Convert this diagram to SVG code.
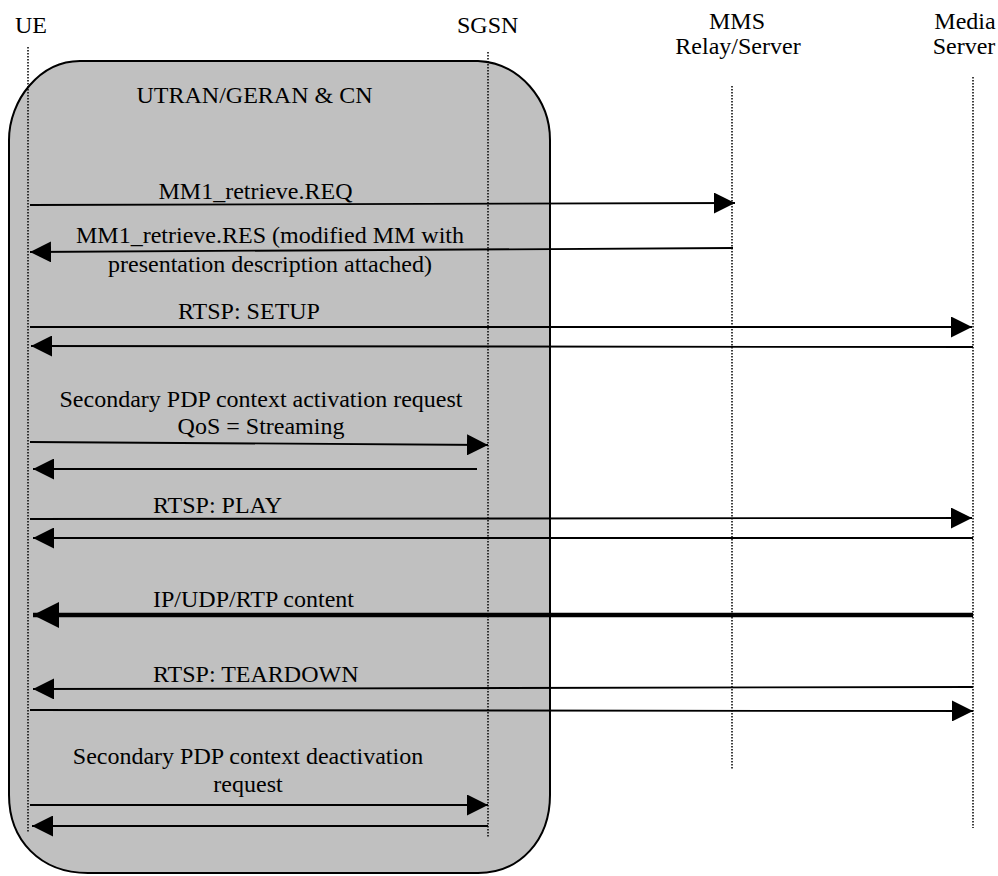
<svg xmlns="http://www.w3.org/2000/svg" width="998" height="876" viewBox="0 0 998 876">
<style>
text{font-family:Liberation Serif,Times New Roman,Times,serif;font-size:24px;fill:#000}
.c{text-anchor:middle}
.life{stroke:#000;stroke-width:1.5;stroke-dasharray:1.5 1.5;fill:none}
.msg{stroke:#000;stroke-width:1.8;fill:none;marker-end:url(#ah)}
.thick{stroke:#000;stroke-width:4.5;fill:none;marker-end:url(#ahb)}
</style>
<defs>
<marker id="ah" viewBox="0 0 21 21" refX="21" refY="10.5" markerWidth="21" markerHeight="21" markerUnits="userSpaceOnUse" orient="auto">
<path d="M0,0 L21,10.5 L0,21 Z" fill="#000"/>
</marker>
<marker id="ahb" viewBox="0 0 26 26" refX="26" refY="13" markerWidth="26" markerHeight="26" markerUnits="userSpaceOnUse" orient="auto">
<path d="M0,0 L26,13 L0,26 Z" fill="#000"/>
</marker>
</defs>
<rect width="998" height="876" fill="#fff"/>
<g id="network">
<path d="M80,61 H478 C520,63 550,100 550,140 V795 C550,840 520,873 478,873 H88 C40,873 9,840 9,795 V140 C9,100 40,61 80,61 Z" fill="#C0C0C0" stroke="#000" stroke-width="2"/>
<text class="c" x="254.5" y="103">UTRAN/GERAN &amp; CN</text>
</g>
<g id="UE">
<text x="15" y="33">UE</text>
<line class="life" x1="28" y1="47" x2="28" y2="832"/>
</g>
<g id="SGSN">
<text x="457" y="33">SGSN</text>
<line class="life" x1="488" y1="52" x2="488" y2="837"/>
</g>
<g id="MMS">
<text class="c" x="737" y="29">MMS</text>
<text class="c" x="738" y="54">Relay/Server</text>
<line class="life" x1="732" y1="86" x2="732" y2="770"/>
</g>
<g id="MediaServer">
<text class="c" x="965" y="29">Media</text>
<text class="c" x="964" y="54">Server</text>
<line class="life" x1="973" y1="77" x2="973" y2="828"/>
</g>
<g id="connectors">
<line class="msg" x1="30" y1="205" x2="735" y2="203"/>
<text class="c" x="255.5" y="199">MM1_retrieve.REQ</text>
<line class="msg" x1="733" y1="248" x2="30" y2="252"/>
<text class="c" x="270" y="243">MM1_retrieve.RES (modified MM with</text>
<text class="c" x="270" y="272">presentation description attached)</text>
<line class="msg" x1="30" y1="327" x2="972" y2="327"/>
<text class="c" x="249" y="319">RTSP: SETUP</text>
<line class="msg" x1="973" y1="347" x2="31" y2="346"/>
<line class="msg" x1="30" y1="442" x2="488" y2="445"/>
<text class="c" x="261" y="407">Secondary PDP context activation request</text>
<text class="c" x="261" y="434">QoS = Streaming</text>
<line class="msg" x1="477" y1="469" x2="33" y2="469"/>
<line class="msg" x1="30" y1="519" x2="972" y2="518"/>
<text x="153" y="513">RTSP: PLAY</text>
<line class="msg" x1="973" y1="538" x2="33" y2="538"/>
<line class="thick" x1="973" y1="615" x2="33" y2="615"/>
<text x="153" y="607">IP/UDP/RTP content</text>
<line class="msg" x1="973" y1="687" x2="33" y2="689"/>
<text x="153" y="682">RTSP: TEARDOWN</text>
<line class="msg" x1="30" y1="710" x2="973" y2="711"/>
<line class="msg" x1="30" y1="805" x2="488" y2="805"/>
<text class="c" x="248" y="764">Secondary PDP context deactivation</text>
<text class="c" x="248" y="792">request</text>
<line class="msg" x1="488" y1="826" x2="32" y2="826"/>
</g>
</svg>
